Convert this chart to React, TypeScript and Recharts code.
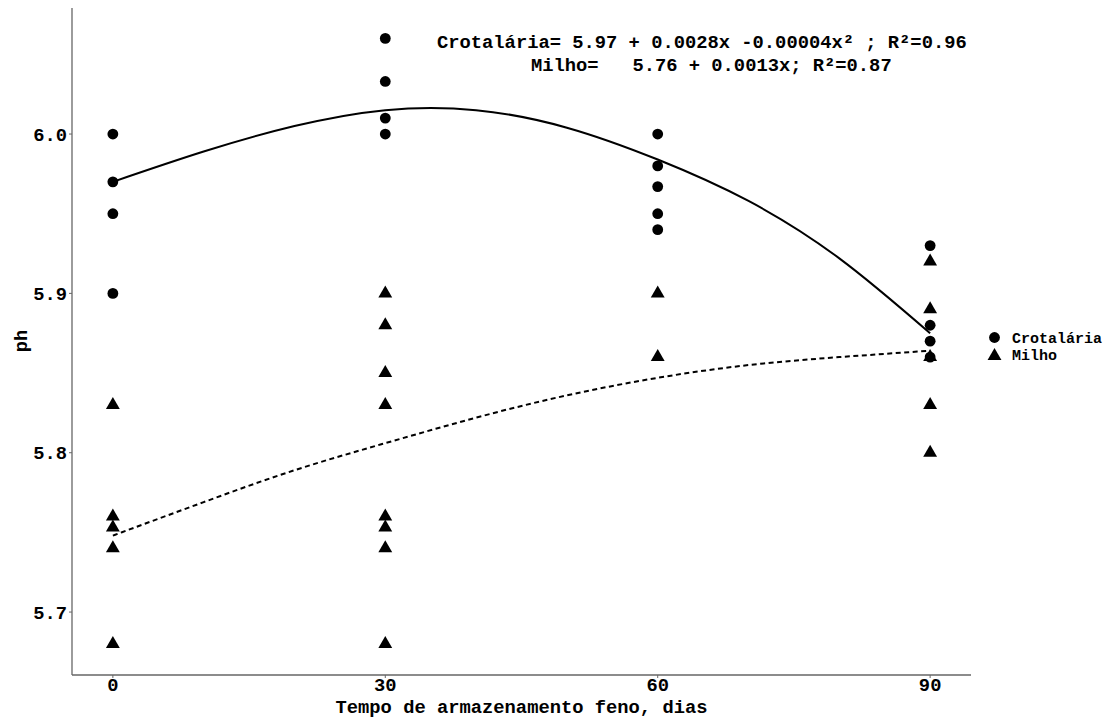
import { ComposedChart, Scatter, Line, XAxis, YAxis, Label } from 'recharts';

const FONT = '"Liberation Mono", "DejaVu Sans Mono", monospace';
const INK = '#000';
const AXIS = '#666';

// storage time (days) used on the x axis
const dias = [0, 30, 60, 90];
const phTicks = [5.7, 5.8, 5.9, 6.0];

// observed pH, Crotalária hay
const crotalariaDias = [0, 0, 0, 0, 30, 30, 30, 30, 60, 60, 60, 60, 60, 90, 90, 90, 90];
const crotalariaPh = [6.0, 5.97, 5.95, 5.9, 6.06, 6.033, 6.01, 6.0, 6.0, 5.98, 5.967, 5.95, 5.94, 5.93, 5.88, 5.87, 5.86];

// observed pH, Milho hay
const milhoDias = [0, 0, 0, 0, 0, 30, 30, 30, 30, 30, 30, 30, 30, 60, 60, 90, 90, 90, 90, 90];
const milhoPh = [5.83, 5.76, 5.753, 5.74, 5.68, 5.9, 5.88, 5.85, 5.83, 5.76, 5.753, 5.74, 5.68, 5.9, 5.86, 5.92, 5.89, 5.86, 5.83, 5.8];

// fitted curves, sampled every 10 days
const curveDias = [0, 10, 20, 30, 40, 50, 60, 70, 80, 90];
const crotalariaFit = [5.97, 5.989, 6.005, 6.015, 6.015, 6.004, 5.984, 5.958, 5.922, 5.875];
const milhoFit = [5.748, 5.769, 5.789, 5.806, 5.822, 5.836, 5.847, 5.855, 5.86, 5.864];

const equationCrotalaria = 'Crotalária= 5.97 + 0.0028x -0.00004x² ; R²=0.96';
const equationMilho = 'Milho=   5.76 + 0.0013x; R²=0.87';

const toPoints = (xs: number[], ys: number[]) => xs.map((dia, i) => ({ dia, ph: ys[i] }));

const crotalariaPoints = toPoints(crotalariaDias, crotalariaPh);
const milhoPoints = toPoints(milhoDias, milhoPh);
const crotalariaCurve = toPoints(curveDias, crotalariaFit);
const milhoCurve = toPoints(curveDias, milhoFit);

const DOT_R = 5.4;
const TRI_R = 8;

function trianglePath(cx: number, cy: number) {
  const hw = TRI_R * 0.866;
  return `${cx},${cy - TRI_R} ${cx + hw},${cy + TRI_R / 2} ${cx - hw},${cy + TRI_R / 2}`;
}

// eslint-disable-next-line @typescript-eslint/no-explicit-any
const CircleMark = (props: any) => <circle cx={props.cx} cy={props.cy} r={DOT_R} fill={INK} />;
// eslint-disable-next-line @typescript-eslint/no-explicit-any
const TriangleMark = (props: any) => <polygon points={trianglePath(props.cx, props.cy)} fill={INK} />;

const textStyle = { fontSize: 18.8, fontWeight: 700, fill: INK, fontFamily: FONT };

export default function App() {
  return (
    <div style={{ position: 'absolute', left: 0, top: 0, width: 1110, height: 718, background: '#fff', fontFamily: FONT }}>
      <ComposedChart width={1110} height={718} margin={{ top: 8, right: 139, bottom: 0, left: 10 }}>
        <XAxis
          type="number"
          dataKey="dia"
          domain={[-4.5, 94.5]}
          ticks={dias}
          allowDataOverflow
          height={43}
          tick={textStyle}
          tickSize={3}
          tickMargin={0}
          axisLine={{ stroke: AXIS, strokeWidth: 1.3 }}
          tickLine={{ stroke: AXIS }}
        >
          <Label value="Tempo de armazenamento feno, dias" position="insideBottom" offset={5} style={textStyle} />
        </XAxis>
        <YAxis
          type="number"
          dataKey="ph"
          domain={[5.6605, 6.0791]}
          ticks={phTicks}
          allowDataOverflow
          width={62}
          tick={textStyle}
          tickSize={3}
          tickMargin={2}
          tickFormatter={(v: number) => v.toFixed(1)}
          axisLine={{ stroke: AXIS, strokeWidth: 1.3 }}
          tickLine={{ stroke: AXIS }}
        >
          <Label
            content={() => (
              <text
                x={22}
                y={341}
                transform="rotate(-90 22 341)"
                textAnchor="middle"
                dominantBaseline="central"
                style={textStyle}
              >
                ph
              </text>
            )}
          />
        </YAxis>
        <Scatter data={crotalariaPoints} dataKey="ph" shape={CircleMark} isAnimationActive={false} />
        <Scatter data={milhoPoints} dataKey="ph" shape={TriangleMark} isAnimationActive={false} />
        <Line
          data={crotalariaCurve}
          dataKey="ph"
          type="natural"
          stroke={INK}
          strokeWidth={2}
          dot={false}
          isAnimationActive={false}
        />
        <Line
          data={milhoCurve}
          dataKey="ph"
          type="natural"
          stroke={INK}
          strokeWidth={2}
          strokeDasharray="5 3.5"
          dot={false}
          isAnimationActive={false}
        />
      </ComposedChart>

      {/* equations and legend */}
      <svg width={1110} height={718} style={{ position: 'absolute', left: 0, top: 0, pointerEvents: 'none' }}>
        <text x={437} y={48} xmlSpace="preserve" style={{ ...textStyle, whiteSpace: 'pre' }}>
          {equationCrotalaria}
        </text>
        <text x={531} y={71} xmlSpace="preserve" style={{ ...textStyle, whiteSpace: 'pre' }}>
          {equationMilho}
        </text>
        <circle cx={994.5} cy={337.5} r={DOT_R} fill={INK} />
        <polygon points={trianglePath(994.5, 356)} fill={INK} />
        <g style={{ fontFamily: FONT, fontWeight: 700, fill: INK }} fontSize={15}>
          <text x={1012} y={343}>Crotalária</text>
          <text x={1012} y={360}>Milho</text>
        </g>
      </svg>
    </div>
  );
}
